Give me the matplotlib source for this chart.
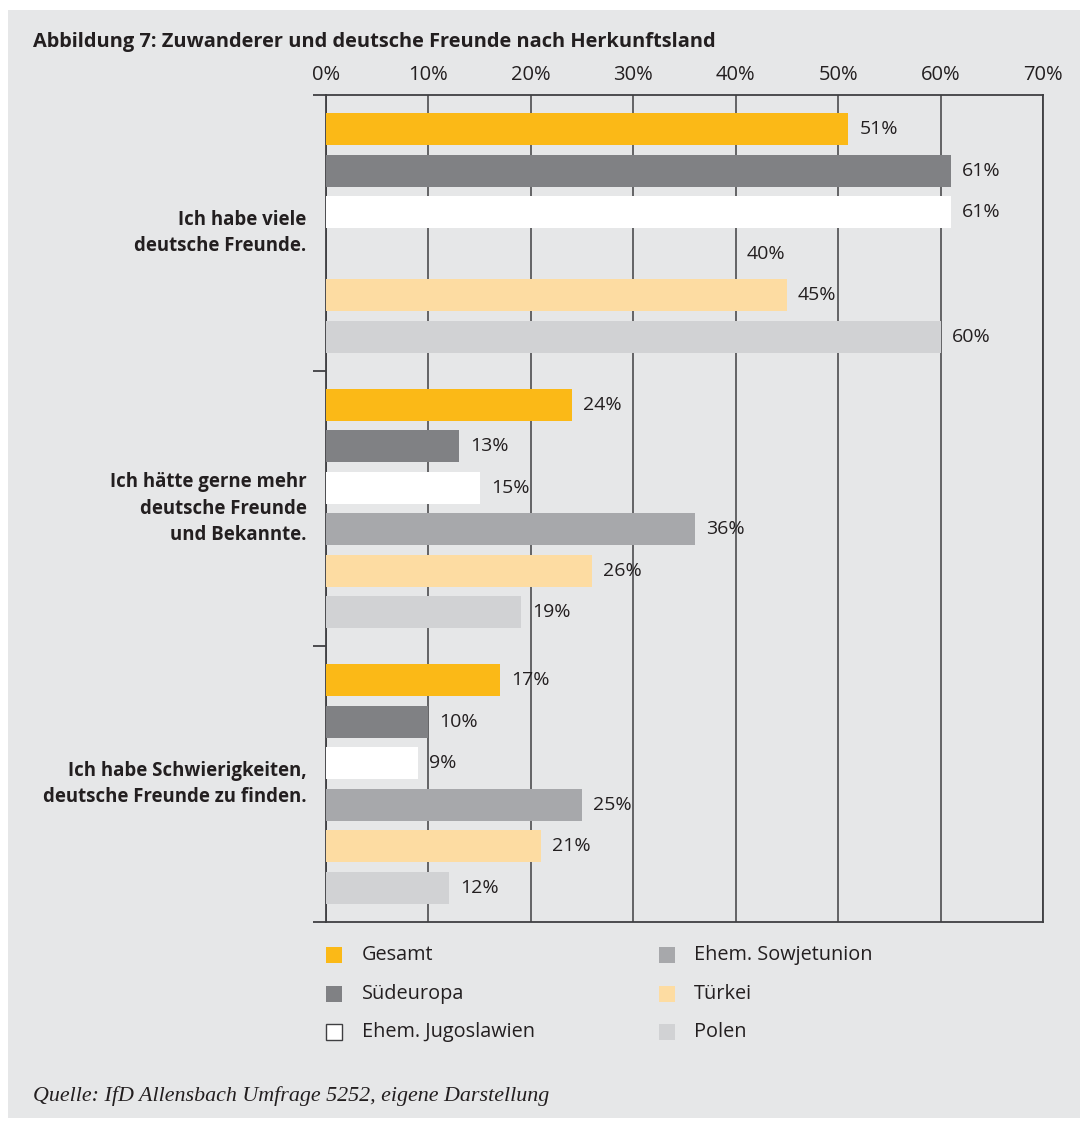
import numpy as np
import matplotlib.pyplot as plt
from matplotlib.patches import Rectangle

# statements (one group of bars each)
groups = [
    "Ich habe viele\ndeutsche Freunde.",
    "Ich hätte gerne mehr\ndeutsche Freunde\nund Bekannte.",
    "Ich habe Schwierigkeiten,\ndeutsche Freunde zu finden.",
]
series = ["Gesamt", "Südeuropa", "Ehem. Jugoslawien", "Ehem. Sowjetunion", "Türkei", "Polen"]

# values in percent, per series (one entry per group)
gesamt = [51, 24, 17]
suedeuropa = [61, 13, 10]
jugoslawien = [61, 15, 9]
sowjetunion = [40, 36, 25]
tuerkei = [45, 26, 21]
polen = [60, 19, 12]

# in the original figure the bar for "Ehem. Sowjetunion" in the first group is not drawn,
# only its label is shown
missing_bars = [("Ehem. Sowjetunion", 0)]

xticks = [0, 10, 20, 30, 40, 50, 60, 70]

colors = {
    "Gesamt": "#fbb917",
    "Südeuropa": "#808184",
    "Ehem. Jugoslawien": "#ffffff",
    "Ehem. Sowjetunion": "#a7a8ab",
    "Türkei": "#fddca2",
    "Polen": "#d1d2d4",
}
bg = "#e6e7e8"
line_col = "#3f3f42"
text_col = "#231f20"

values = [gesamt, suedeuropa, jugoslawien, sowjetunion, tuerkei, polen]

plt.rcParams["font.family"] = ["Open Sans", "DejaVu Sans"]

fig = plt.figure(figsize=(10.86, 11.22), dpi=100)
fig.patch.set_facecolor("white")
# grey panel behind everything
fig.patches.append(Rectangle((8 / 1086, 4 / 1122), 1072 / 1086, 1108 / 1122,
                             transform=fig.transFigure, facecolor=bg, edgecolor="none", zorder=-10))

ax = fig.add_axes([326 / 1086, 1 - 922 / 1122, 717 / 1086, 827 / 1122])
ax.set_facecolor(bg)

group_h = 6.64
first = 0.82
bar_h = 0.77

for s, (name, vals) in enumerate(zip(series, values)):
    ys = [g * group_h + first + s for g in range(len(groups))]
    bars = ax.barh(ys, vals, height=bar_h, color=colors[name], edgecolor="none", zorder=3)
    for g, (y, v) in enumerate(zip(ys, vals)):
        if (name, g) in missing_bars:
            bars[g].set_visible(False)
        ax.annotate(f"{v}%", xy=(v, y), xytext=(8, 0), textcoords="offset points",
                    ha="left", va="center", fontsize=14, color=text_col, zorder=4)

ax.set_xlim(0, 70)
ax.set_ylim(len(groups) * group_h, 0)

ax.xaxis.tick_top()
ax.set_xticks(xticks)
ax.set_xticklabels([f"{t}%" for t in xticks])
ax.tick_params(axis="x", length=0, pad=7, labelsize=14.5, labelcolor=text_col)
ax.grid(axis="x", color=line_col, linewidth=1.1, zorder=0)
ax.set_axisbelow(True)

ax.set_yticks([g * group_h for g in range(len(groups) + 1)])
ax.set_yticklabels([])
ax.tick_params(axis="y", direction="out", length=9.5, width=1.3, color=line_col)

for sp in ax.spines.values():
    sp.set_color(line_col)
    sp.set_linewidth(1.3)

# group labels
for g, label in enumerate(groups):
    ax.text(-0.027, (g + 0.5) * group_h, label, transform=ax.get_yaxis_transform(),
            ha="right", va="center", fontsize=13.4, fontweight="bold", color=text_col,
            linespacing=1.42)

fig.text(33 / 1086, 1 - 42 / 1122, "Abbildung 7: Zuwanderer und deutsche Freunde nach Herkunftsland",
         ha="left", va="center", fontsize=14.4, fontweight="bold", color=text_col)

# legend, two columns
legend_rows = [955, 994, 1032]
legend_cols = [(326, 362), (659, 694)]
for i, name in enumerate(series):
    (sx, tx), ry = legend_cols[i // 3], legend_rows[i % 3]
    fig.patches.append(Rectangle((sx / 1086, 1 - (ry + 8) / 1122), 16 / 1086, 16 / 1122,
                                 transform=fig.transFigure, facecolor=colors[name],
                                 edgecolor=line_col if name == "Ehem. Jugoslawien" else "none",
                                 linewidth=1.0))
    fig.text(tx / 1086, 1 - ry / 1122, name, ha="left", va="center", fontsize=14.3, color=text_col)

fig.text(33 / 1086, 1 - 1096 / 1122, "Quelle: IfD Allensbach Umfrage 5252, eigene Darstellung",
         ha="left", va="center", fontsize=15.8, style="italic", family="Liberation Serif",
         color=text_col)

fig.savefig("out.png", dpi=100, facecolor=fig.get_facecolor())
